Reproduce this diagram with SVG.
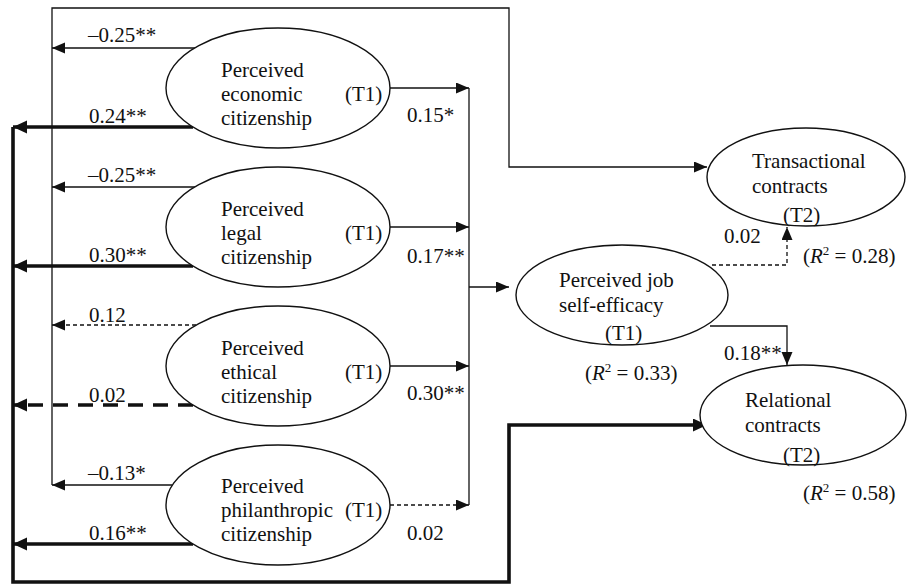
<svg xmlns="http://www.w3.org/2000/svg" width="908" height="584" viewBox="0 0 908 584">
<style>
text{font-family:'Liberation Serif','DejaVu Serif','Times New Roman',Times,serif;font-size:21px;fill:#111}
.node ellipse{fill:#fff;stroke:#111;stroke-width:1.4}
.thin{fill:none;stroke:#111;stroke-width:1.3}
.thindash{fill:none;stroke:#111;stroke-width:1.3;stroke-dasharray:4 3}
.thick{fill:none;stroke:#111;stroke-width:3.6}
.thickdash{fill:none;stroke:#111;stroke-width:3.6;stroke-dasharray:15 10}
.it{font-style:italic}
.sup{font-size:13px}
</style>
<defs>
<marker id="a" markerUnits="userSpaceOnUse" markerWidth="14" markerHeight="12" refX="13" refY="5.5" orient="auto"><path d="M0,0 L13,5.5 L0,11 Z" fill="#111"/></marker>
<marker id="b" markerUnits="userSpaceOnUse" markerWidth="15" markerHeight="14" refX="14" refY="6.5" orient="auto"><path d="M0,0 L14,6.5 L0,13 Z" fill="#111"/></marker>
</defs>
<g font-family="Liberation Serif, DejaVu Serif, serif">
<g id="connectors">
<path class="thin" d="M52,485 V8 H509 V167 H707" marker-end="url(#a)"/>
<path class="thin" d="M195,48 H52" marker-end="url(#a)"/>
<path class="thin" d="M195,187 H52" marker-end="url(#a)"/>
<path class="thindash" d="M196,325 H52" marker-end="url(#a)"/>
<path class="thin" d="M172,485 H52" marker-end="url(#a)"/>
<path class="thick" d="M13,127 V582 H509 V425 H707" marker-end="url(#b)"/>
<path class="thick" d="M193,127 H13" marker-end="url(#b)"/>
<path class="thick" d="M193,266 H13" marker-end="url(#b)"/>
<path class="thickdash" d="M193,405 H13" marker-end="url(#b)"/>
<path class="thick" d="M193,544 H13" marker-end="url(#b)"/>
<path class="thin" d="M390,88 H469" marker-end="url(#a)"/>
<path class="thin" d="M390,227 H469" marker-end="url(#a)"/>
<path class="thin" d="M390,366 H469" marker-end="url(#a)"/>
<path class="thindash" d="M390,505 H469" marker-end="url(#a)"/>
<path class="thin" d="M469,88 V505"/>
<path class="thin" d="M469,287 H509" marker-end="url(#a)"/>
<path class="thindash" d="M712,265 H787 V227" marker-end="url(#a)"/>
<path class="thin" d="M710,326 H787 V365" marker-end="url(#a)"/>
<text x="88" y="42">–0.25**</text>
<text x="89" y="123">0.24**</text>
<text x="88" y="182">–0.25**</text>
<text x="89" y="262">0.30**</text>
<text x="89" y="322">0.12</text>
<text x="89" y="402">0.02</text>
<text x="88" y="480">–0.13*</text>
<text x="89" y="540">0.16**</text>
<text x="407" y="122">0.15*</text>
<text x="407" y="263">0.17**</text>
<text x="407" y="400">0.30**</text>
<text x="407" y="540">0.02</text>
<text x="724" y="243">0.02</text>
<text x="724" y="360">0.18**</text>
</g>
<g id="economic" class="node">
<ellipse cx="278" cy="88" rx="112" ry="60"/>
<text x="221" y="77">Perceived</text><text x="221" y="101">economic</text><text x="221" y="125">citizenship</text>
<text x="345" y="101">(T1)</text>
</g>
<g id="legal" class="node">
<ellipse cx="278" cy="227" rx="112" ry="60"/>
<text x="221" y="216">Perceived</text><text x="221" y="240">legal</text><text x="221" y="264">citizenship</text>
<text x="345" y="240">(T1)</text>
</g>
<g id="ethical" class="node">
<ellipse cx="278" cy="366" rx="112" ry="60"/>
<text x="221" y="355">Perceived</text><text x="221" y="379">ethical</text><text x="221" y="403">citizenship</text>
<text x="345" y="379">(T1)</text>
</g>
<g id="philanthropic" class="node">
<ellipse cx="278" cy="505" rx="112" ry="60"/>
<text x="221" y="493">Perceived</text><text x="221" y="517">philanthropic</text><text x="221" y="541">citizenship</text>
<text x="345" y="517">(T1)</text>
</g>
<g id="jobefficacy" class="node">
<ellipse cx="622" cy="295" rx="106" ry="50"/>
<text x="559" y="287">Perceived job</text><text x="559" y="312">self-efficacy</text>
<text x="605" y="340">(T1)</text>
<text x="585" y="380">(<tspan class="it">R</tspan><tspan class="sup" dy="-8">2</tspan><tspan dy="8"> = 0.33)</tspan></text>
</g>
<g id="transactional" class="node">
<ellipse cx="806" cy="177" rx="99" ry="49"/>
<text x="752" y="168">Transactional</text><text x="752" y="193">contracts</text>
<text x="783" y="222">(T2)</text>
<text x="803" y="263">(<tspan class="it">R</tspan><tspan class="sup" dy="-8">2</tspan><tspan dy="8"> = 0.28)</tspan></text>
</g>
<g id="relational" class="node">
<ellipse cx="803" cy="415" rx="103" ry="50"/>
<text x="745" y="407">Relational</text><text x="745" y="432">contracts</text>
<text x="783" y="462">(T2)</text>
<text x="803" y="500">(<tspan class="it">R</tspan><tspan class="sup" dy="-8">2</tspan><tspan dy="8"> = 0.58)</tspan></text>
</g>
</g>
</svg>
